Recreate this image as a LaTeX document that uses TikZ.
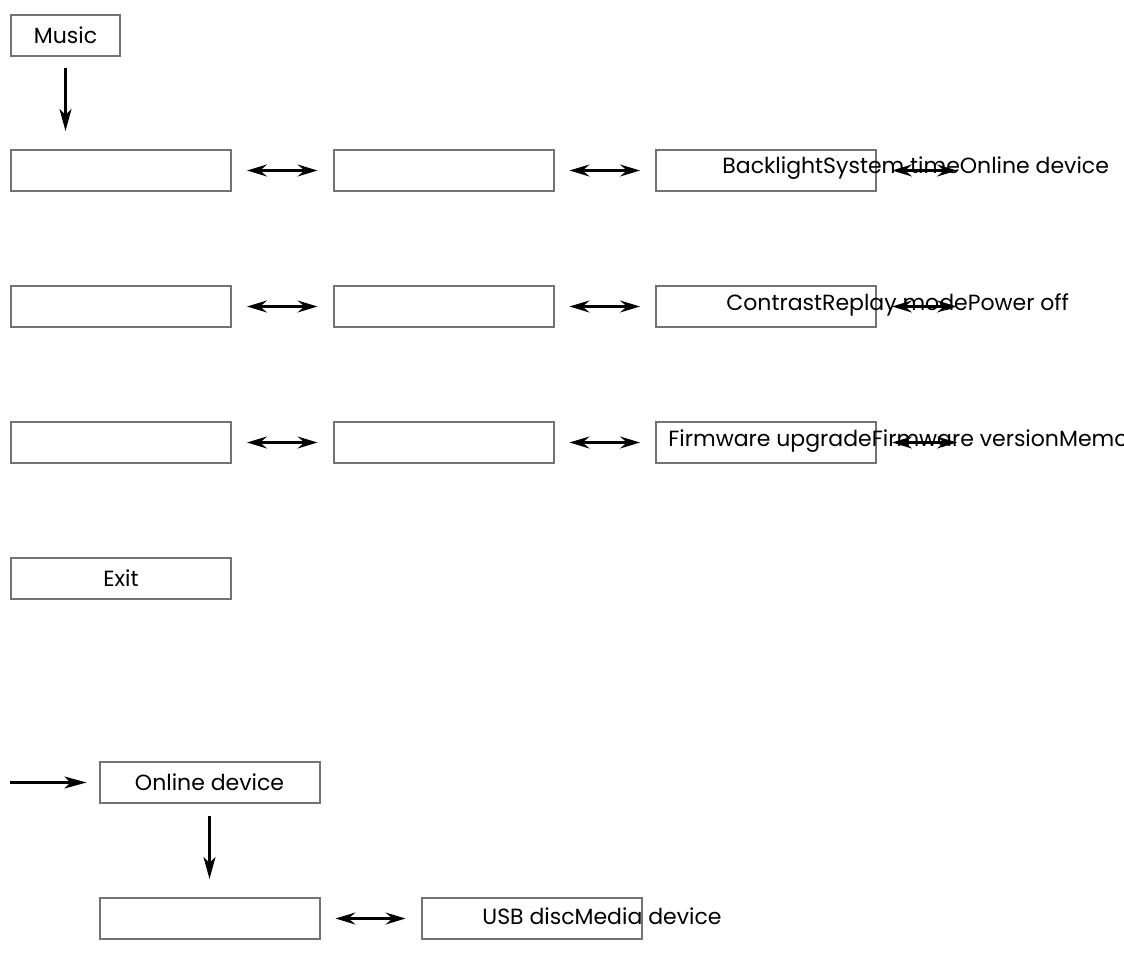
\documentclass[tikz,border=0pt]{standalone}
\usepackage{fontspec}
\setmainfont{Poppins}
\usetikzlibrary{arrows.meta}

\begin{document}
\begin{tikzpicture}[x=0.5pt,y=-0.5pt]
\tikzstyle{every node}+=[inner sep=0pt, font=\fontsize{11}{13}\selectfont]
\tikzstyle{menubox}=[draw=black!55, line width=1pt, minimum width=110pt, minimum height=20.5pt]
\tikzstyle{tip}=[-{Stealth[length=11pt,width=6pt,inset=3pt]}, line width=1.1pt]
\tikzstyle{dtip}=[{Stealth[length=10pt,width=6pt,inset=3.5pt]}-{Stealth[length=10pt,width=6pt,inset=3.5pt]}, line width=1.1pt, shorten <=7.5pt, shorten >=7.5pt]
\useasboundingbox (0,0) rectangle (1124,953);
\node [menubox, minimum width=54.5pt] (music) at (65.5,35) {Music};
\node [menubox] (r1c1) at (121,170.5) {};
\node [menubox] (r1c2) at (443.5,170.5) {};
\node [menubox] (r1c3) at (766,170.5) {};
\coordinate (r1c4) at (972,170.5);
\node [menubox] (r2c1) at (121,306.5) {};
\node [menubox] (r2c2) at (443.5,306.5) {};
\node [menubox] (r2c3) at (766,306.5) {};
\coordinate (r2c4) at (972,306.5);
\node [menubox] (r3c1) at (121,442.5) {};
\node [menubox] (r3c2) at (443.5,442.5) {};
\node [menubox] (r3c3) at (766,442.5) {};
\coordinate (r3c4) at (972,442.5);
\node [menubox] (exit) at (121,578.5) {Exit};
\node [menubox] (online) at (209.5,782.5) {Online device};
\node [menubox] (u1) at (209.5,918.5) {};
\node [menubox] (u2) at (531.5,918.5) {};
\coordinate (start) at (10,782.5);
\node [anchor=west] (txt1) at (722,168) {BacklightSystem timeOnline device};
\node [anchor=west] (txt2) at (726,305) {ContrastReplay modePower off};
\node [anchor=west] (txt3) at (668,441) {Firmware upgradeFirmware versionMemo};
\node [anchor=west] (txt4) at (482,916) {USB discMedia device};
\draw [tip, shorten <=5.5pt, shorten >=9pt] (music.south) -- (music.south |- r1c1.north);
\foreach \r in {1,2,3}{
  \draw [dtip] (r\r c1.east) -- (r\r c2.west);
  \draw [dtip] (r\r c2.east) -- (r\r c3.west);
  \draw [dtip] (r\r c3.east) -- (r\r c4);
}
\draw [tip, shorten >=6pt] (start) -- (online.west);
\draw [tip, shorten <=6pt, shorten >=9pt] (online.south) -- (u1.north);
\draw [dtip] (u1.east) -- (u2.west);
\end{tikzpicture}
\end{document}
